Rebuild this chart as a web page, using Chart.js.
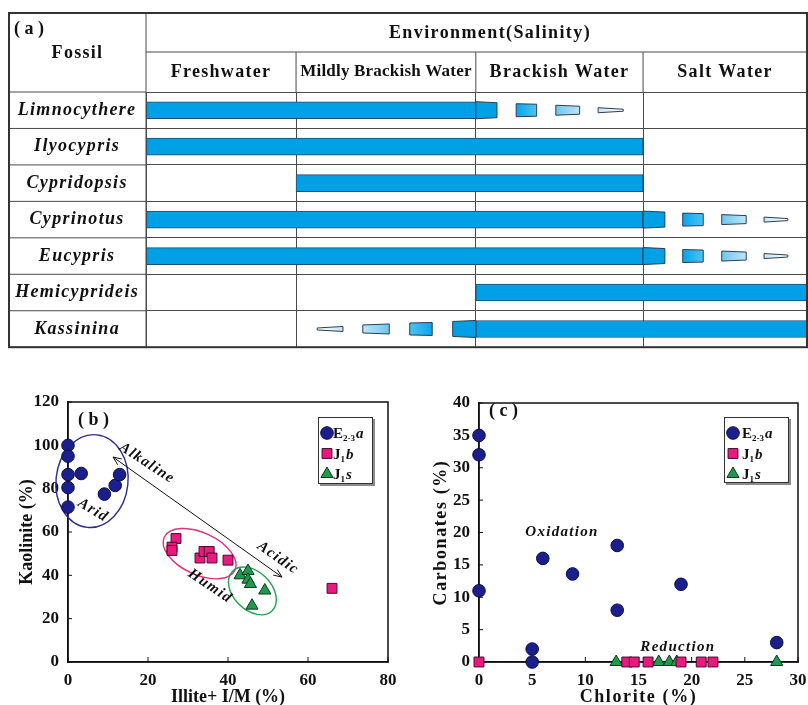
<!DOCTYPE html>
<html>
<head>
<meta charset="utf-8">
<script src="https://cdn.jsdelivr.net/npm/chart.js@4.4.1/dist/chart.umd.min.js"></script>
<style>
  body { margin: 0; background: #fff; }
  #wrap { position: relative; width: 808px; height: 705px; overflow: hidden; }
  canvas { position: absolute; }
  #tableChart { left: 0; top: 0; }
  #kaoChart { left: 0; top: 380px; }
  #carbChart { left: 404px; top: 380px; }
</style>
</head>
<body>
<div id="wrap">
  <canvas id="tableChart" width="808" height="365"></canvas>
  <canvas id="kaoChart" width="404" height="330"></canvas>
  <canvas id="carbChart" width="404" height="330"></canvas>
</div>
<script>
// ---- (a) fossil salinity ranges, salinity axis 0..100 across the four zones
const fossils = ['Limnocythere', 'Ilyocypris', 'Cypridopsis', 'Cyprinotus', 'Eucypris', 'Hemicyprideis', 'Kassinina'];
const zones = ['Freshwater', 'Mildly Brackish Water', 'Brackish Water', 'Salt Water'];
const zoneEdges = [0, 22.7, 49.9, 75.2, 100];
const mainRange = [[0, 49.9], [0, 75.2], [22.7, 75.2], [0, 75.2], [0, 75.2], [49.9, 100], [49.9, 100]];
const taperRange = [[49.9, 53.1], null, null, [75.2, 78.5], [75.2, 78.5], null, [46.4, 49.9]];
const fade1Range = [[56, 59.1], null, null, [81.2, 84.3], [81.2, 84.3], null, [39.9, 43.3]];
const fade2Range = [[62, 65.6], null, null, [87.1, 90.8], [87.1, 90.8], null, [32.8, 36.8]];
const fade3Range = [[68.4, 72.2], null, null, [93.5, 97.1], [93.5, 97.1], null, [25.9, 29.8]];

// ---- (b) kaolinite vs illite + I/M
const e23aIlliteIM = [0, 0, 0, 0, 0, 3.3, 9.1, 11.8, 12.9];
const e23aKaolinite = [100, 95, 86.5, 80.5, 71.5, 87, 77.5, 81.5, 86.5];
const j1bIlliteIM = [27, 26, 26, 33, 34, 35.3, 36, 40, 66];
const j1bKaolinite = [57, 53, 51.5, 48, 51, 51, 48, 47, 34];
const j1sIlliteIM = [43, 45, 45, 45.6, 49.2, 46];
const j1sKaolinite = [40, 42, 38, 36, 33, 26];

// ---- (c) carbonates vs chlorite
const e23aChlorite = [0, 0, 0, 5, 5, 6, 8.8, 13, 13, 19, 28];
const e23aCarbonates = [35, 32, 11, 2, 0, 16, 13.6, 18, 8, 12, 3];
const j1bChlorite = [0, 13.9, 14.6, 15.9, 19, 20.9, 22];
const j1bCarbonates = [0, 0, 0, 0, 0, 0, 0];
const j1sChlorite = [12.9, 16.9, 17.9, 18.6, 28];
const j1sCarbonates = [0, 0, 0, 0, 0];

// legend names: [text, kind]
const seriesNames = [
  [['E', ''], ['2-3', 'sub'], ['a', 'it']],
  [['J', ''], ['1', 'sub'], ['b', 'it']],
  [['J', ''], ['1', 'sub'], ['s', 'it']]
];

const SERIF = '"Liberation Serif", "Times New Roman", serif';
const INK = '#111';
Chart.defaults.font.family = SERIF;
Chart.defaults.color = INK;

function line(ctx, x1, y1, x2, y2) {
  ctx.beginPath();
  ctx.moveTo(x1, y1);
  ctx.lineTo(x2, y2);
  ctx.stroke();
}

function text(ctx, s, x, y, size, style, spacing, align) {
  ctx.font = style + ' ' + size + 'px ' + SERIF;
  ctx.letterSpacing = spacing + 'px';
  ctx.textAlign = align || 'center';
  ctx.textBaseline = 'middle';
  ctx.fillStyle = INK;
  ctx.fillText(s, x, y);
  ctx.letterSpacing = '0px';
}

// ================= (a) table =================
const barBlue = '#00a0e6';
const fades = [
  {range: taperRange, thick: [17, 15], fill: [barBlue, barBlue]},
  {range: fade1Range, thick: [13, 12], fill: ['#0aa4ea', '#4cc3f2']},
  {range: fade2Range, thick: [10, 8], fill: ['#6fc6f0', '#bde5f8']},
  {range: fade3Range, thick: [5, 2], fill: ['#c4e5f4', '#ffffff']}
];

// draws the fading pieces as trapezoids on the bar elements
const taperPlugin = {
  id: 'taper',
  afterDatasetsDraw(chart) {
    const ctx = chart.ctx;
    chart.data.datasets.forEach((ds, di) => {
      if (!ds.taper) return;
      chart.getDatasetMeta(di).data.forEach((el, i) => {
        const r = ds.data[i];
        if (!r) return;
        const {x, y, base} = el.getProps(['x', 'y', 'base'], true);
        const left = Math.min(x, base), right = Math.max(x, base);
        const before = r[1] <= mainRange[i][0]; // piece lies left of the main bar
        const [big, small] = ds.taper.thick;
        const hl = (before ? small : big) / 2, hr = (before ? big : small) / 2;
        const g = ctx.createLinearGradient(left, 0, right, 0);
        g.addColorStop(0, before ? ds.taper.fill[1] : ds.taper.fill[0]);
        g.addColorStop(1, before ? ds.taper.fill[0] : ds.taper.fill[1]);
        ctx.save();
        ctx.beginPath();
        ctx.moveTo(left, y - hl);
        ctx.lineTo(right, y - hr);
        ctx.lineTo(right, y + hr);
        ctx.lineTo(left, y + hl);
        ctx.closePath();
        ctx.fillStyle = g;
        ctx.fill();
        ctx.strokeStyle = '#2a3f4f';
        ctx.lineWidth = 1;
        ctx.stroke();
        ctx.restore();
      });
    });
  }
};

const tableFrame = {
  id: 'tableFrame',
  beforeLayout(chart) { chart.ctx.letterSpacing = '1.3px'; },
  beforeDraw(chart) { chart.ctx.letterSpacing = '1.3px'; },
  afterDraw(chart) {
    const {ctx, chartArea: a, scales: {x}} = chart;
    const L = 9, T = 13, mid = 52;
    ctx.save();
    ctx.strokeStyle = '#4a4a4a';
    ctx.lineWidth = 1;
    const rowH = (a.bottom - a.top) / fossils.length;
    for (let i = 0; i <= fossils.length; i++) {
      line(ctx, L, a.top + i * rowH, a.left, a.top + i * rowH);
    }
    line(ctx, a.left, mid, a.right, mid);
    line(ctx, a.left, T, a.left, a.bottom);
    zoneEdges.slice(1, -1).forEach(v => {
      const px = x.getPixelForValue(v);
      line(ctx, px, mid, px, a.top);
    });
    ctx.lineWidth = 2;
    ctx.strokeStyle = '#333';
    ctx.strokeRect(L, T, a.right - L, a.bottom - T);

    text(ctx, '( a )', 14, 29, 18, 'bold', 0, 'left');
    text(ctx, 'Fossil', (L + a.left) / 2, 53, 18, 'bold', 1.3);
    text(ctx, 'Environment(Salinity)', 490, 33, 18, 'bold', 1.4);
    zones.forEach((z, i) => {
      const cx = (x.getPixelForValue(zoneEdges[i]) + x.getPixelForValue(zoneEdges[i + 1])) / 2;
      if (i === 1) text(ctx, z, cx, 72, 17, 'bold', 0.2);
      else text(ctx, z, cx, 72, 18, 'bold', 1.3);
    });
    ctx.restore();
  }
};

new Chart(document.getElementById('tableChart'), {
  type: 'bar',
  data: {
    labels: fossils,
    datasets: [
      {data: mainRange, backgroundColor: barBlue, borderColor: '#1d4d6b', borderWidth: 1,
       borderSkipped: false, barThickness: 17, grouped: false},
      ...fades.map(f => ({data: f.range, backgroundColor: 'rgba(0,0,0,0)', borderWidth: 0,
        barThickness: f.thick[0], grouped: false, taper: f}))
    ]
  },
  options: {
    indexAxis: 'y',
    responsive: false,
    animation: false,
    events: [],
    layout: {padding: {left: 9, top: 92, right: 1, bottom: 7}},
    plugins: {legend: {display: false}, tooltip: {enabled: false}},
    scales: {
      x: {
        min: 0, max: 100, z: 1,
        afterBuildTicks: s => { s.ticks = zoneEdges.map(v => ({value: v})); },
        ticks: {display: false},
        grid: {color: '#4a4a4a', lineWidth: 1, drawTicks: false},
        border: {display: false}
      },
      y: {
        afterFit: s => { s.width = 137; },
        ticks: {font: {size: 18, weight: 'bold', style: 'italic'}, color: INK, crossAlign: 'center', padding: 7},
        grid: {color: '#4a4a4a', lineWidth: 1, drawTicks: false},
        border: {display: false}
      }
    }
  },
  plugins: [taperPlugin, tableFrame]
});

// ================= (b), (c) scatter =================
const markStyles = [
  {pointStyle: 'circle', pointRadius: 6.3, pointBackgroundColor: '#1b1f8c', pointBorderColor: '#0c0f4a'},
  {pointStyle: 'rect', pointRadius: 7, pointBackgroundColor: '#e8197f', pointBorderColor: '#4d0b2a'},
  {pointStyle: 'triangle', pointRadius: 7, pointBackgroundColor: '#1f9a4c', pointBorderColor: '#0b3b1c'}
];

function pts(xs, ys) { return xs.map((x, i) => ({x, y: ys[i]})); }

function drawMark(ctx, st, x, y) {
  const r = st.pointRadius;
  ctx.beginPath();
  if (st.pointStyle === 'circle') {
    ctx.arc(x, y, r, 0, Math.PI * 2);
  } else if (st.pointStyle === 'rect') {
    const h = r * Math.SQRT1_2;
    ctx.rect(x - h, y - h, 2 * h, 2 * h);
  } else {
    for (let k = 0; k < 3; k++) {
      const ang = k * 2 * Math.PI / 3;
      ctx[k ? 'lineTo' : 'moveTo'](x + Math.sin(ang) * r, y - Math.cos(ang) * r);
    }
    ctx.closePath();
  }
  ctx.fillStyle = st.pointBackgroundColor;
  ctx.fill();
  ctx.strokeStyle = st.pointBorderColor;
  ctx.lineWidth = 1;
  ctx.stroke();
}

function rich(ctx, parts, x, y, size) {
  ctx.fillStyle = INK;
  ctx.textAlign = 'left';
  ctx.textBaseline = 'alphabetic';
  parts.forEach(([s, kind]) => {
    const sub = kind === 'sub';
    ctx.font = (kind === 'it' ? 'italic ' : '') + 'bold ' + (sub ? 9 : size) + 'px ' + SERIF;
    ctx.fillText(s, x, y + (sub ? 3 : 0));
    x += ctx.measureText(s).width + (sub ? 1 : 0);
  });
}

function spacedTitle(scale, px) {
  if (scale._spaced) return;
  const draw = scale.drawTitle.bind(scale);
  scale.drawTitle = () => { scale.ctx.letterSpacing = px + 'px'; draw(); scale.ctx.letterSpacing = '0px'; };
  scale._spaced = true;
}

function decor(cfg) {
  return {
    id: 'decor',
    beforeDatasetsDraw(chart) {
      const {ctx, chartArea: a, scales: {x, y}} = chart;
      ctx.save();
      ctx.strokeStyle = INK;
      ctx.lineWidth = 1.5;
      ctx.strokeRect(a.left, a.top, a.width, a.height);
      ctx.lineWidth = 1;
      x.ticks.forEach(t => { const px = x.getPixelForValue(t.value); line(ctx, px, a.bottom, px, a.bottom - 5); });
      y.ticks.forEach(t => { const py = y.getPixelForValue(t.value); line(ctx, a.left, py, a.left + 4, py); });
      ctx.lineWidth = 1.4;
      (cfg.ellipses || []).forEach(e => {
        ctx.strokeStyle = e.color;
        ctx.beginPath();
        ctx.ellipse(x.getPixelForValue(e.x), y.getPixelForValue(e.y), e.rx, e.ry, e.rot * Math.PI / 180, 0, Math.PI * 2);
        ctx.stroke();
      });
      if (cfg.arrow) {
        const x1 = x.getPixelForValue(cfg.arrow.from[0]), y1 = y.getPixelForValue(cfg.arrow.from[1]);
        const x2 = x.getPixelForValue(cfg.arrow.to[0]), y2 = y.getPixelForValue(cfg.arrow.to[1]);
        ctx.strokeStyle = INK;
        ctx.lineWidth = 1;
        line(ctx, x1, y1, x2, y2);
        const ang = Math.atan2(y2 - y1, x2 - x1);
        [[x2, y2, ang], [x1, y1, ang + Math.PI]].forEach(([hx, hy, t]) => {
          line(ctx, hx, hy, hx - 9 * Math.cos(t - 0.4), hy - 9 * Math.sin(t - 0.4));
          line(ctx, hx, hy, hx - 9 * Math.cos(t + 0.4), hy - 9 * Math.sin(t + 0.4));
        });
      }
      ctx.restore();
    },
    afterDraw(chart) {
      const {ctx, chartArea: a, scales: {x, y}} = chart;
      ctx.save();
      text(ctx, cfg.panel, a.left + 10, a.top + cfg.panelDy, 18, 'bold', 0, 'left');
      cfg.notes.forEach(n => {
        ctx.save();
        ctx.translate(x.getPixelForValue(n.x), y.getPixelForValue(n.y));
        ctx.rotate(n.angle * Math.PI / 180);
        text(ctx, n.text, 0, 0, 15, 'italic bold', 1.3);
        ctx.restore();
      });
      const lg = cfg.legend;
      const bx = a.right - lg.right - lg.w, by = a.top + lg.top;
      ctx.fillStyle = '#8c8c8c';
      ctx.fillRect(bx + 2, by + 2, lg.w, lg.h);
      ctx.fillStyle = '#fff';
      ctx.fillRect(bx, by, lg.w, lg.h);
      ctx.strokeStyle = '#333';
      ctx.lineWidth = 1;
      ctx.strokeRect(bx + 0.5, by + 0.5, lg.w - 1, lg.h - 1);
      markStyles.forEach((st, i) => {
        const cy = by + 16 + i * 20.5;
        drawMark(ctx, st, bx + 9, cy);
        rich(ctx, seriesNames[i], bx + lg.textDx, cy + 5, 15);
      });
      ctx.restore();
    }
  };
}

function scatter(id, series, ax, cfg) {
  const tick = {size: 17, weight: 'bold'};
  const title = {size: 18, weight: 'bold'};
  return new Chart(document.getElementById(id), {
    type: 'scatter',
    data: {
      datasets: series.map((s, i) => ({data: s, ...markStyles[i], pointBorderWidth: 1, clip: false}))
    },
    options: {
      responsive: false,
      animation: false,
      events: [],
      layout: {padding: {left: 0, right: ax.padRight, top: ax.padTop, bottom: 0}},
      plugins: {legend: {display: false}, tooltip: {enabled: false}},
      scales: {
        x: {
          type: 'linear', min: 0, max: ax.xMax,
          ticks: {stepSize: ax.xStep, font: tick, color: INK, padding: 0},
          grid: {display: false},
          border: {color: INK, width: 1.5},
          title: {display: true, text: ax.xTitle, font: title, color: INK, padding: {top: 0, bottom: 2}},
          afterFit: s => { s.height = 48; spacedTitle(s, ax.spacing); }
        },
        y: {
          type: 'linear', min: 0, max: ax.yMax,
          ticks: {stepSize: ax.yStep, font: tick, color: INK, padding: 1},
          grid: {display: false},
          border: {color: INK, width: 1.5},
          title: {display: true, text: ax.yTitle, font: title, color: INK, padding: {top: ax.yTitlePad, bottom: 0}},
          afterFit: s => { s.width = ax.leftW; spacedTitle(s, ax.spacing); }
        }
      }
    },
    plugins: [decor(cfg)]
  });
}

scatter('kaoChart',
  [pts(e23aIlliteIM, e23aKaolinite), pts(j1bIlliteIM, j1bKaolinite), pts(j1sIlliteIM, j1sKaolinite)],
  {xMax: 80, xStep: 20, yMax: 120, yStep: 20, xTitle: 'Illite+ I/M (%)', yTitle: 'Kaolinite (%)',
   leftW: 68, padRight: 16, padTop: 22, yTitlePad: 17, spacing: 0},
  {
    panel: '( b )', panelDy: 18,
    legend: {right: 15, top: 15, w: 55, h: 67, textDx: 15},
    ellipses: [
      {x: 6, y: 83.5, rx: 36, ry: 46.5, rot: 6, color: '#2c2c8e'},
      {x: 32.9, y: 50, rx: 39, ry: 21, rot: 25, color: '#e0337f'},
      {x: 46.1, y: 32.8, rx: 28, ry: 19, rot: 45, color: '#22a052'}
    ],
    arrow: {from: [11.25, 94.6], to: [53.5, 39.2]},
    notes: [
      {text: 'Alkaline', x: 19.75, y: 91.8, angle: 33},
      {text: 'Arid', x: 6.25, y: 70, angle: 31},
      {text: 'Acidic', x: 52.5, y: 48, angle: 35},
      {text: 'Humid', x: 35.5, y: 35, angle: 34}
    ]
  });

scatter('carbChart',
  [pts(e23aChlorite, e23aCarbonates), pts(j1bChlorite, j1bCarbonates), pts(j1sChlorite, j1sCarbonates)],
  {xMax: 30, xStep: 5, yMax: 40, yStep: 5, xTitle: 'Chlorite (%)', yTitle: 'Carbonates (%)',
   leftW: 75, padRight: 10, padTop: 23, yTitlePad: 27, spacing: 1.6},
  {
    panel: '( c )', panelDy: 8,
    legend: {right: 9, top: 14, w: 65, h: 66, textDx: 18},
    notes: [
      {text: 'Oxidation', x: 7.8, y: 20.1, angle: 0},
      {text: 'Reduction', x: 18.7, y: 2.3, angle: 0}
    ]
  });
</script>
</body>
</html>
